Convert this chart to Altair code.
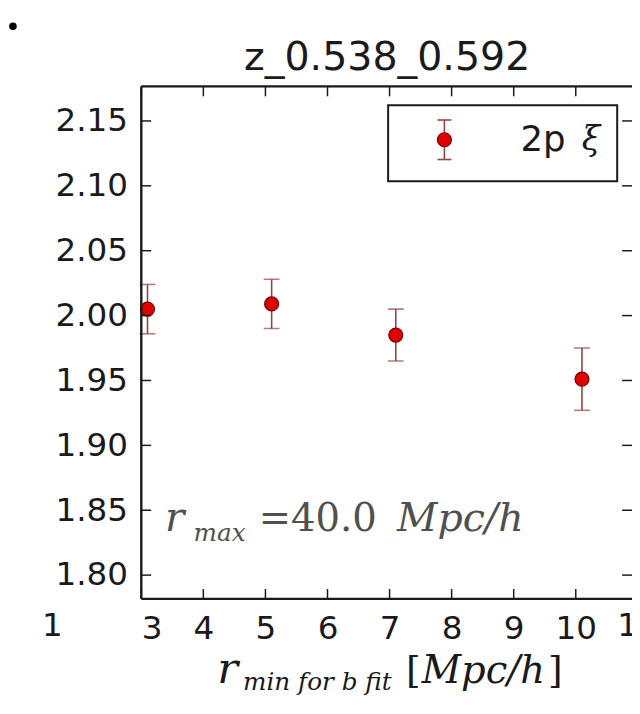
import altair as alt
import pandas as pd

# ---- data ----
r_min = [3.1, 5.1, 7.1, 10.1]
bias = [2.005, 2.009, 1.985, 1.951]
bias_err = [0.019, 0.019, 0.020, 0.024]

x_ticks = [3, 4, 5, 6, 7, 8, 9, 10]
y_ticks = [1.80, 1.85, 1.90, 1.95, 2.00, 2.05, 2.10, 2.15]

title_text = "z_0.538_0.592"
legend_label = "2p"
legend_symbol = "ξ"

X_DOMAIN = [3, 10.906]
Y_DOMAIN = [1.7817, 2.1766]
W, H = 497, 519

RED = "#e00000"
RED_EDGE = "#7a0000"
ERR = "#8e4545"
INK = "#1a1a1a"
GRAY = "#505050"

df = pd.DataFrame({"r": r_min, "b": bias, "e": bias_err})
xt = pd.DataFrame({"v": x_ticks})
yt = pd.DataFrame({"v": y_ticks})
one = pd.DataFrame({"k": [0]})

xs = alt.Scale(domain=X_DOMAIN, nice=False, zero=False)
ys = alt.Scale(domain=Y_DOMAIN, nice=False, zero=False)

base = alt.Chart(df).transform_calculate(lo="datum.b - datum.e", hi="datum.b + datum.e")

err_rule = base.mark_rule(color=ERR, strokeWidth=1.6).encode(
    x=alt.X("r:Q", scale=xs, axis=alt.Axis(
        title=None, values=x_ticks, format="d", ticks=False, tickSize=0, domain=False, grid=False,
        labelFontSize=33, labelFont="DejaVu Sans", labelColor=INK, labelPadding=14)),
    y=alt.Y("lo:Q", scale=ys, axis=alt.Axis(
        title=None, values=y_ticks, format=".2f", ticks=False, tickSize=0, domain=False, grid=False,
        labelFontSize=33, labelFont="DejaVu Sans", labelColor=INK, labelPadding=14)),
    y2="hi:Q",
)
cap_lo = base.mark_tick(orient="horizontal", size=16, thickness=1.6, color=ERR).encode(
    x=alt.X("r:Q", scale=xs), y=alt.Y("lo:Q", scale=ys))
cap_hi = base.mark_tick(orient="horizontal", size=16, thickness=1.6, color=ERR).encode(
    x=alt.X("r:Q", scale=xs), y=alt.Y("hi:Q", scale=ys))
pts = base.mark_circle(size=200, color=RED, opacity=1, stroke=RED_EDGE, strokeWidth=1.2).encode(
    x=alt.X("r:Q", scale=xs), y=alt.Y("b:Q", scale=ys))

# inward ticks
tk = dict(color=INK, strokeWidth=1.5)
left_ticks = alt.Chart(yt).mark_rule(**tk).encode(y=alt.Y("v:Q", scale=ys), x=alt.value(0), x2=alt.value(10))
right_ticks = alt.Chart(yt).mark_rule(**tk).encode(y=alt.Y("v:Q", scale=ys), x=alt.value(W - 10), x2=alt.value(W))
bot_ticks = alt.Chart(xt).mark_rule(**tk).encode(x=alt.X("v:Q", scale=xs), y=alt.value(H - 10), y2=alt.value(H))
top_ticks = alt.Chart(xt).mark_rule(**tk).encode(x=alt.X("v:Q", scale=xs), y=alt.value(0), y2=alt.value(10))

# spines (right spine lies just outside the cropped picture)
sp = dict(color=INK, strokeWidth=2.4)
spine_l = alt.Chart(one).mark_rule(**sp).encode(x=alt.value(0), y=alt.value(0), y2=alt.value(H))
spine_t = alt.Chart(one).mark_rule(**sp).encode(y=alt.value(0), x=alt.value(0), x2=alt.value(W))
spine_b = alt.Chart(one).mark_rule(**sp).encode(y=alt.value(H), x=alt.value(0), x2=alt.value(W))

def txt(text, x, y, size, font="DejaVu Sans", style="normal", color=INK, align="left", baseline="alphabetic"):
    return alt.Chart(one).mark_text(text=text, font=font, fontSize=size, fontStyle=style, color=color,
                                    align=align, baseline=baseline).encode(x=alt.value(x), y=alt.value(y))

title = txt(title_text, 249, -17, 40, align="center")
bullet = alt.Chart(one).mark_circle(size=60, color="black", opacity=1).encode(x=alt.value(-130), y=alt.value(-61))
x11 = txt("11", 503, 547, 33, align="center", baseline="middle")
x1_left = txt("1", -90, 547, 33, align="center", baseline="middle")

# x-axis title (math style)
xt_r = txt("r", 77, 604, 44, font="DejaVu Serif", style="italic")
xt_sub = txt("min for b fit", 103, 611, 25, font="DejaVu Serif", style="italic")
xt_lb = txt("[", 268, 604, 38, font="DejaVu Serif")
xt_unit = txt("Mpc/h", 284, 604, 39, font="DejaVu Serif", style="italic")
xt_rb = txt("]", 412, 604, 38, font="DejaVu Serif")

# r_max annotation
an_r = txt("r", 24, 450, 41, font="DejaVu Serif", style="italic", color=GRAY)
an_sub = txt("max", 53, 460, 25, font="DejaVu Serif", style="italic", color=GRAY)
an_val = txt("=40.0", 119, 450, 39, font="DejaVu Serif", color=GRAY)
an_unit = txt("Mpc/h", 259, 450, 40, font="DejaVu Serif", style="italic", color=GRAY)

# legend
leg_box = alt.Chart(one).mark_rect(fill="white", stroke=INK, strokeWidth=2).encode(
    x=alt.value(250), x2=alt.value(482), y=alt.value(19), y2=alt.value(96))
leg_err = alt.Chart(one).mark_rule(color=ERR, strokeWidth=1.6).encode(x=alt.value(307), y=alt.value(34), y2=alt.value(74))
leg_cap1 = alt.Chart(one).mark_rule(color=ERR, strokeWidth=1.6).encode(x=alt.value(300), x2=alt.value(314), y=alt.value(34))
leg_cap2 = alt.Chart(one).mark_rule(color=ERR, strokeWidth=1.6).encode(x=alt.value(300), x2=alt.value(314), y=alt.value(74))
leg_pt = alt.Chart(one).mark_circle(size=200, color=RED, opacity=1, stroke=RED_EDGE, strokeWidth=1.2).encode(
    x=alt.value(307), y=alt.value(54))
leg_t1 = txt(legend_label, 384, 54, 36, baseline="middle")
leg_t2 = txt(legend_symbol, 446, 54, 34, font="DejaVu Serif", style="italic", baseline="middle")

chart = alt.layer(
    err_rule, cap_lo, cap_hi, pts,
    left_ticks, right_ticks, bot_ticks, top_ticks,
    spine_l, spine_t, spine_b,
    title, bullet, x11, x1_left,
    xt_r, xt_sub, xt_lb, xt_unit, xt_rb,
    an_r, an_sub, an_val, an_unit,
    leg_box, leg_err, leg_cap1, leg_cap2, leg_pt, leg_t1, leg_t2,
).properties(
    width=W, height=H,
    autosize=alt.AutoSizeParams(type="none"),
    padding={"left": 135, "top": 75, "right": 0, "bottom": 98},
).configure_view(stroke=None).configure(background="white")

chart.save("out.html", embed_options={"renderer": "svg", "actions": False})
